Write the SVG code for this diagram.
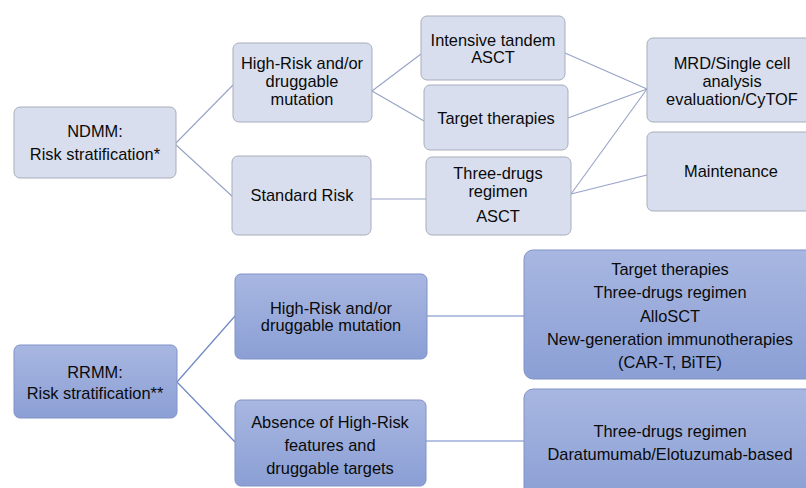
<svg xmlns="http://www.w3.org/2000/svg" width="806" height="488" viewBox="0 0 806 488">
<defs>
<linearGradient id="blueGrad" x1="0" y1="0" x2="0" y2="1">
<stop offset="0" stop-color="#a8b7e1"/>
<stop offset="1" stop-color="#8b9fd5"/>
</linearGradient>
<style>
.light rect{fill:#d8deee;stroke:#a7adba;stroke-width:1}
.dark rect{fill:url(#blueGrad);stroke:#8193c6;stroke-width:1}
text{font-family:"Liberation Sans",Arial,sans-serif;font-size:16.4px;fill:#0a0a0a;text-anchor:middle}
.c1 line{stroke:#97a3c6;stroke-width:1.1}
.c2 line{stroke:#6f86c4;stroke-width:1.2}
</style>
</defs>
<rect width="806" height="488" fill="#ffffff"/>

<g id="connectors">
<g class="c1">
<line x1="175" y1="144" x2="233" y2="85"/>
<line x1="175" y1="144" x2="233" y2="197"/>
<line x1="372" y1="91" x2="421" y2="54"/>
<line x1="372" y1="91" x2="424" y2="121"/>
<line x1="371" y1="199" x2="426" y2="199"/>
<line x1="565" y1="53" x2="647" y2="89"/>
<line x1="568" y1="118" x2="647" y2="89"/>
<line x1="571" y1="194" x2="647" y2="89"/>
<line x1="571" y1="194" x2="647" y2="175"/>
</g>
<g class="c2">
<line x1="177" y1="382" x2="235" y2="316"/>
<line x1="177" y1="382" x2="235" y2="442"/>
<line x1="427" y1="316" x2="524" y2="316"/>
<line x1="426" y1="441" x2="524" y2="441"/>
</g>
</g>

<g id="ndmm" class="light">
<rect x="14" y="107" width="162" height="71" rx="6"/>
<text x="95" y="137">NDMM:</text>
<text x="95" y="160">Risk stratification*</text>
</g>
<g id="hr-top" class="light">
<rect x="233" y="43" width="139" height="79" rx="6"/>
<text x="302" y="69">High-Risk and/or</text>
<text x="302" y="87">druggable</text>
<text x="302" y="105">mutation</text>
</g>
<g id="standard-risk" class="light">
<rect x="232" y="156" width="139" height="79" rx="6"/>
<text x="302" y="201">Standard Risk</text>
</g>
<g id="intensive" class="light">
<rect x="421" y="16" width="144" height="64" rx="6"/>
<text x="493" y="46">Intensive tandem</text>
<text x="493" y="63">ASCT</text>
</g>
<g id="target-top" class="light">
<rect x="424" y="85" width="144" height="65" rx="6"/>
<text x="496" y="124">Target therapies</text>
</g>
<g id="three-drugs-top" class="light">
<rect x="426" y="157" width="145" height="78" rx="6"/>
<text x="498" y="179">Three-drugs</text>
<text x="498" y="197">regimen</text>
<text x="498" y="222">ASCT</text>
</g>
<g id="mrd" class="light">
<rect x="647" y="38" width="170" height="84" rx="6"/>
<text x="732" y="69">MRD/Single cell</text>
<text x="732" y="87">analysis</text>
<text x="732" y="105">evaluation/CyTOF</text>
</g>
<g id="maintenance" class="light">
<rect x="647" y="132" width="170" height="79" rx="6"/>
<text x="731" y="177">Maintenance</text>
</g>

<g id="rrmm" class="dark">
<rect x="14" y="345" width="163" height="73" rx="6"/>
<text x="95" y="378">RRMM:</text>
<text x="95" y="399">Risk stratification**</text>
</g>
<g id="hr-bottom" class="dark">
<rect x="235" y="274" width="192" height="85" rx="6"/>
<text x="331" y="314">High-Risk and/or</text>
<text x="331" y="331">druggable mutation</text>
</g>
<g id="absence" class="dark">
<rect x="235" y="400" width="191" height="86" rx="6"/>
<text x="330" y="428">Absence of High-Risk</text>
<text x="330" y="451">features and</text>
<text x="330" y="474">druggable targets</text>
</g>
<g id="rr-options" class="dark">
<rect x="524" y="250" width="292" height="129" rx="9"/>
<text x="670" y="275">Target therapies</text>
<text x="670" y="298">Three-drugs regimen</text>
<text x="670" y="322">AlloSCT</text>
<text x="670" y="345">New-generation immunotherapies</text>
<text x="670" y="368">(CAR-T, BiTE)</text>
</g>
<g id="rr-standard" class="dark">
<rect x="524" y="389" width="292" height="110" rx="9"/>
<text x="670" y="437">Three-drugs regimen</text>
<text x="670" y="460">Daratumumab/Elotuzumab-based</text>
</g>
</svg>
